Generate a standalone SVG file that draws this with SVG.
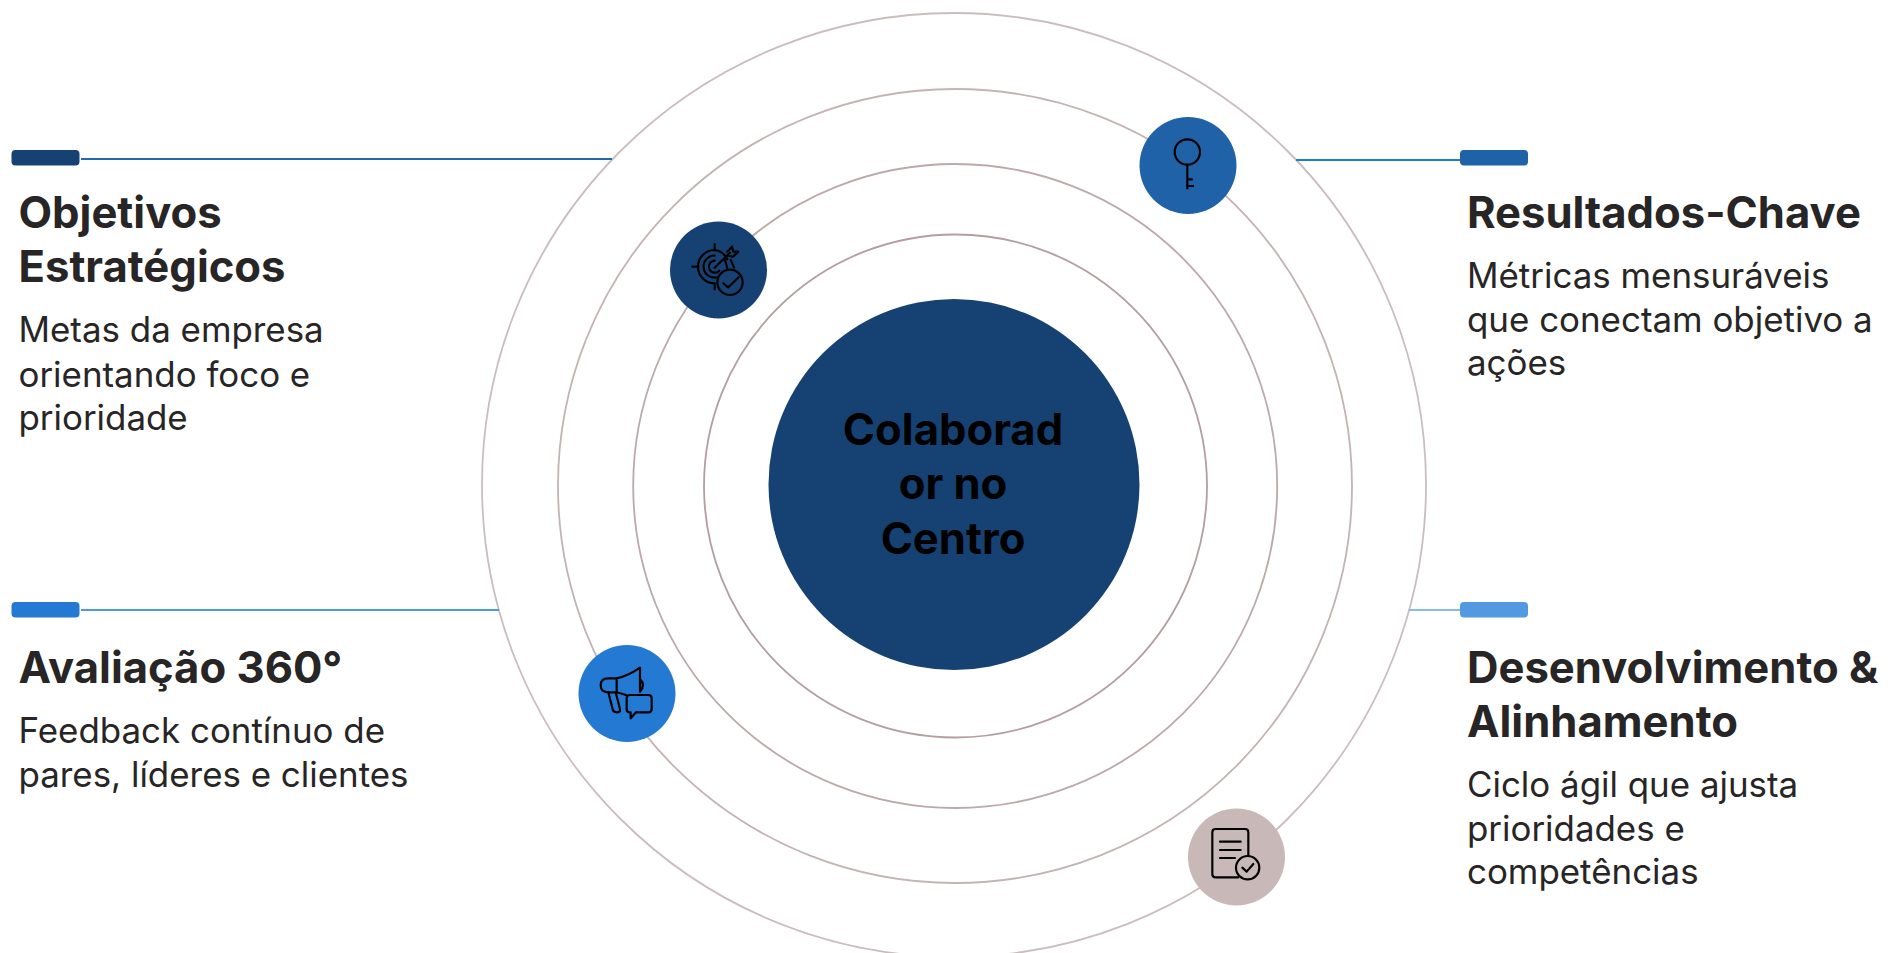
<svg xmlns="http://www.w3.org/2000/svg" width="1894" height="953" viewBox="0 0 1894 953">
<style>
text{font-family:Inter,"Liberation Sans",sans-serif}
.t{font-size:43.6px;font-weight:700;fill:#272525}
.d{font-size:34.9px;font-weight:400;fill:#272525}
.c{font-size:43.6px;font-weight:700;fill:#000;text-anchor:middle}
.ring{fill:none;stroke-width:1.8}
.r1{stroke:#cbbdbd}
.r2{stroke:#c4b3b3}
.r3{stroke:#bca9aa}
.r4{stroke:#b39ea0}
.ic{fill:none;stroke:#000;stroke-width:6.5;stroke-linecap:round;stroke-linejoin:round}
.l{stroke-width:2}
</style>
<rect width="1894" height="953" fill="#fff"/>
<g id="rings">
<circle class="ring r1" cx="954" cy="485" r="472"/>
<circle class="ring r2" cx="955" cy="486" r="397"/>
<circle class="ring r3" cx="955.2" cy="486" r="322"/>
<circle class="ring r4" cx="955.5" cy="486" r="251.5"/>
</g>
<g id="connectors">
<line class="l" x1="81" y1="159" x2="612" y2="159" stroke="#1f69b0"/>
<line class="l" x1="1296" y1="160" x2="1460" y2="160" stroke="#2479d3"/>
<line class="l" x1="81" y1="610" x2="499" y2="610" stroke="#4c9be0"/>
<line class="l" x1="1409" y1="610" x2="1460" y2="610" stroke="#85bcef"/>
</g>
<g id="center">
<circle cx="954" cy="484.5" r="185.5" fill="#154273"/>
<text class="c" x="953" y="445">Colaborad</text>
<text class="c" x="953" y="499.3">or no</text>
<text class="c" x="953" y="554">Centro</text>
</g>
<g id="node-objetivos">
<rect x="11.5" y="150" width="68" height="15.5" rx="4" fill="#154273"/>
<text class="t" x="18.5" y="227.7">Objetivos</text>
<text class="t" x="18.5" y="281.7">Estratégicos</text>
<text class="d" x="18.5" y="342.2">Metas da empresa</text>
<text class="d" x="18.5" y="386.7">orientando foco e</text>
<text class="d" x="18.5" y="430">prioridade</text>
</g>
<g id="node-resultados">
<rect x="1460" y="150" width="68" height="15.5" rx="4" fill="#1f62a8"/>
<text class="t" x="1467" y="227.7">Resultados-Chave</text>
<text class="d" x="1467" y="288.2">Métricas mensuráveis</text>
<text class="d" x="1467" y="332">que conectam objetivo a</text>
<text class="d" x="1467" y="375">ações</text>
</g>
<g id="node-avaliacao">
<rect x="11.5" y="602" width="68" height="15.5" rx="4" fill="#2479d3"/>
<text class="t" x="18.5" y="682.7">Avaliação 360°</text>
<text class="d" x="18.5" y="743">Feedback contínuo de</text>
<text class="d" x="18.5" y="787">pares, líderes e clientes</text>
</g>
<g id="node-desenvolvimento">
<rect x="1460" y="602" width="68" height="15.5" rx="4" fill="#5299e2"/>
<text class="t" x="1467" y="682.7">Desenvolvimento &amp;</text>
<text class="t" x="1467" y="736.7">Alinhamento</text>
<text class="d" x="1467" y="797">Ciclo ágil que ajusta</text>
<text class="d" x="1467" y="840.5">prioridades e</text>
<text class="d" x="1467" y="884">competências</text>
</g>
<g id="icon-target">
<circle cx="718.5" cy="270" r="48.5" fill="#154273"/>
<g class="ic" transform="translate(640 200) scale(.3333)">
<path d="M224 132V150M157 200H175M224 250V268M224 150A50 50 0 0 0 224 250M262 178A50 50 0 0 0 224 150"/>
<path d="M224 167A33 33 0 1 0 235 231M224 182A18 18 0 1 0 238 212"/>
<path d="M224 203L270 158M262 155L276 140L280 155L295 155L279 170L265 168"/>
<path d="M272 180L282 202M255 180L262 205"/>
<circle cx="270" cy="247" r="38"/>
<path d="M250 250L265 262L296 232"/>
</g>
</g>
<g id="icon-key">
<circle cx="1188" cy="165.5" r="48.5" fill="#1f62a8"/>
<g class="ic" transform="translate(1120 100) scale(.3333)">
<circle cx="202" cy="156" r="38"/>
<path d="M202 194V268M202 238H218M202 258H222" stroke-linecap="butt"/>
</g>
</g>
<g id="icon-megaphone">
<circle cx="627" cy="693.5" r="48.5" fill="#2479d3"/>
<g class="ic" transform="translate(560 630) scale(.3333)">
<path d="M170 145H145Q122 145 122 166Q122 187 145 187H170V145Q205 138 240 113V185M170 187L198 195M240 147Q258 165 240 185"/>
<path d="M145 187L158 238Q160 247 170 247Q182 247 180 238L168 190"/>
<path d="M210 195H265Q275 195 275 205V237Q275 247 265 247H228L212 265V247H210Q200 247 200 237V205Q200 195 210 195Z"/>
</g>
</g>
<g id="icon-document">
<circle cx="1236.5" cy="857" r="48.5" fill="#c8b8b8"/>
<g class="ic" transform="translate(1170 790) scale(.3333)">
<path d="M235 198V127Q235 117 225 117H137Q127 117 127 127V252Q127 262 137 262H205"/>
<path d="M150 155H212M150 180H212M150 204H195"/>
<circle cx="233" cy="233" r="35"/>
<path d="M217 233L230 245L250 222"/>
</g>
</g>
</svg>
